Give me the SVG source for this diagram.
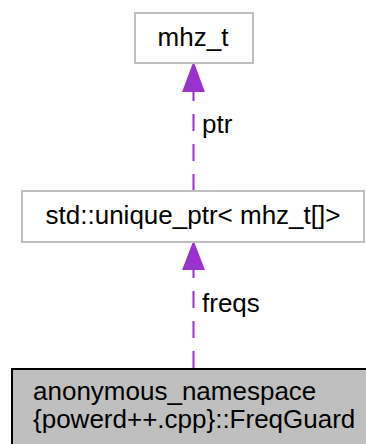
<svg xmlns="http://www.w3.org/2000/svg" width="366" height="444" viewBox="0 0 366 444">
<style>
text{font-family:"Liberation Sans",Arial,sans-serif;font-size:26px;fill:#000}
.n{fill:#fff;stroke:#bfbfbf;stroke-width:2}
.cur{fill:#bfbfbf;stroke:#000;stroke-width:2}
.e{fill:none;stroke:#9a32cd;stroke-width:2;stroke-dasharray:17 13}
.ah{fill:#9a32cd;stroke:#9a32cd;stroke-width:2}
</style>
<rect width="366" height="444" fill="#fff"/>
<g id="edges">
<path class="e" d="M193.5 368V269"/>
<polygon class="ah" points="193.5,243 183.5,269 203.5,269"/>
<text x="202" y="312">freqs</text>
<path class="e" d="M193.5 191V91"/>
<polygon class="ah" points="193.5,64 183.5,91 203.5,91"/>
<text x="202" y="133">ptr</text>
</g>
<g id="node_mhz_t">
<rect class="n" x="135" y="13" width="118" height="50"/>
<text x="193" y="46" text-anchor="middle">mhz_t</text>
</g>
<g id="node_unique_ptr">
<rect class="n" x="22" y="191" width="342" height="51"/>
<text x="193" y="224" text-anchor="middle">std::unique_ptr&lt; mhz_t[]&gt;</text>
</g>
<g id="node_FreqGuard">
<rect class="cur" x="12" y="369" width="360" height="80"/>
<text x="33" y="400">anonymous_namespace</text>
<text x="33" y="428">{powerd++.cpp}::FreqGuard</text>
</g>
</svg>
